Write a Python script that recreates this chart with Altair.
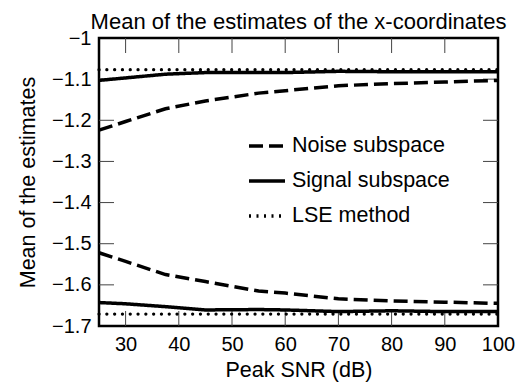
import altair as alt
import pandas as pd

# Peak SNR sample points (dB)
snr = [25, 30, 37.5, 45, 55, 60, 70, 80, 90, 100]

# Mean of the x-coordinate estimates, two targets per method
noise_upper = [-1.224, -1.203, -1.172, -1.153, -1.134, -1.128, -1.116, -1.111, -1.107, -1.103]
noise_lower = [-1.522, -1.543, -1.575, -1.592, -1.615, -1.620, -1.634, -1.639, -1.642, -1.645]
signal_upper = [-1.103, -1.097, -1.088, -1.084, -1.084, -1.084, -1.081, -1.082, -1.082, -1.082]
signal_lower = [-1.643, -1.646, -1.653, -1.661, -1.660, -1.661, -1.665, -1.663, -1.665, -1.665]
lse_upper = [-1.077] * len(snr)
lse_lower = [-1.671] * len(snr)

methods = ["Noise subspace", "Signal subspace", "LSE method"]
dashes = [[14, 6], [1, 0], [2, 5.5]]

x_ticks = [30, 40, 50, 60, 70, 80, 90]
y_ticks = [-1.7, -1.6, -1.5, -1.4, -1.3, -1.2, -1.1, -1.0]
inner_y_ticks = [-1.6, -1.5, -1.4, -1.3, -1.2, -1.1]

series = [
    ("Noise subspace", "upper", noise_upper),
    ("Noise subspace", "lower", noise_lower),
    ("Signal subspace", "upper", signal_upper),
    ("Signal subspace", "lower", signal_lower),
    ("LSE method", "upper", lse_upper),
    ("LSE method", "lower", lse_lower),
]
rows = []
for method, branch, vals in series:
    for s, v in zip(snr, vals):
        rows.append({"snr": s, "value": v, "method": method, "curve": method + " " + branch})
df = pd.DataFrame(rows)

FONT = "Liberation Sans"
TEXT = 21.5
x_scale = alt.Scale(domain=[25, 100], nice=False, zero=False)
y_scale = alt.Scale(domain=[-1.7, -1.0], nice=False, zero=False)

x_enc = alt.X("snr:Q", scale=x_scale,
              axis=alt.Axis(values=x_ticks + [100], title="Peak SNR (dB)", ticks=False, domain=False,
                            grid=False, labelFontSize=20, titleFontSize=TEXT, titleFontWeight="normal",
                            labelPadding=8, titlePadding=5, labelColor="black", titleColor="black",
                            labelFlush=False))
y_enc = alt.Y("value:Q", scale=y_scale,
              axis=alt.Axis(values=y_ticks, title="Mean of the estimates", ticks=False, domain=False,
                            grid=False, labelFontSize=20, titleFontSize=TEXT, titleFontWeight="normal",
                            labelPadding=8, titlePadding=12, labelColor="black", titleColor="black",
                            labelFlush=False,
                            labelExpr="replace(format(datum.value, '~g'), '-', '\u2212')"))

# dashed and solid curves; the scale carries all three methods for the legend
subspace = alt.Chart(df).transform_filter(
    alt.datum.method != "LSE method"
).mark_line(strokeWidth=3.5, color="black").encode(
    x=x_enc,
    y=y_enc,
    strokeDash=alt.StrokeDash("method:N", scale=alt.Scale(domain=methods, range=dashes),
                              legend=alt.Legend(title=None, orient="none", legendX=148, legendY=88,
                                                symbolType="stroke", symbolSize=1296,
                                                symbolStrokeWidth=3.5, symbolStrokeColor="black",
                                                labelFontSize=TEXT, labelOffset=5, labelColor="black",
                                                rowPadding=4, padding=0)),
    detail="curve:N",
)

# dotted LSE curves with round dots
lse = alt.Chart(df).transform_filter(
    alt.datum.method == "LSE method"
).mark_line(strokeWidth=3.2, color="black", strokeDash=[0.1, 7.7], strokeCap="round").encode(
    x=alt.X("snr:Q", scale=x_scale),
    y=alt.Y("value:Q", scale=y_scale),
    detail="curve:N",
)

tick_style = dict(color="#444", strokeWidth=1)
xt = pd.DataFrame({"t": x_ticks})
yt = pd.DataFrame({"t": inner_y_ticks})

bottom_ticks = alt.Chart(xt).mark_rule(y2Offset=-15, **tick_style).encode(
    x=alt.X("t:Q", scale=x_scale), y=alt.datum(-1.7), y2=alt.datum(-1.7))
top_ticks = alt.Chart(xt).mark_rule(y2Offset=15, **tick_style).encode(
    x=alt.X("t:Q", scale=x_scale), y=alt.datum(-1.0), y2=alt.datum(-1.0))
left_ticks = alt.Chart(yt).mark_rule(x2Offset=15, **tick_style).encode(
    y=alt.Y("t:Q", scale=y_scale), x=alt.datum(25), x2=alt.datum(25))
right_ticks = alt.Chart(yt).mark_rule(x2Offset=-15, **tick_style).encode(
    y=alt.Y("t:Q", scale=y_scale), x=alt.datum(100), x2=alt.datum(100))

chart = alt.layer(bottom_ticks, top_ticks, left_ticks, right_ticks, subspace, lse).properties(
    width=399, height=288,
    title=alt.TitleParams("Mean of the estimates of the x-coordinates", fontSize=22,
                          fontWeight="normal", anchor="middle", baseline="alphabetic",
                          offset=-23, color="black", font=FONT),
    padding={"left": 99, "top": 38, "right": 30, "bottom": 64},
    autosize=alt.AutoSizeParams(type="none"),
).configure(font=FONT).configure_view(stroke="black", strokeWidth=2.5)

chart.save("out.html", embed_options={"renderer": "svg", "actions": False})
